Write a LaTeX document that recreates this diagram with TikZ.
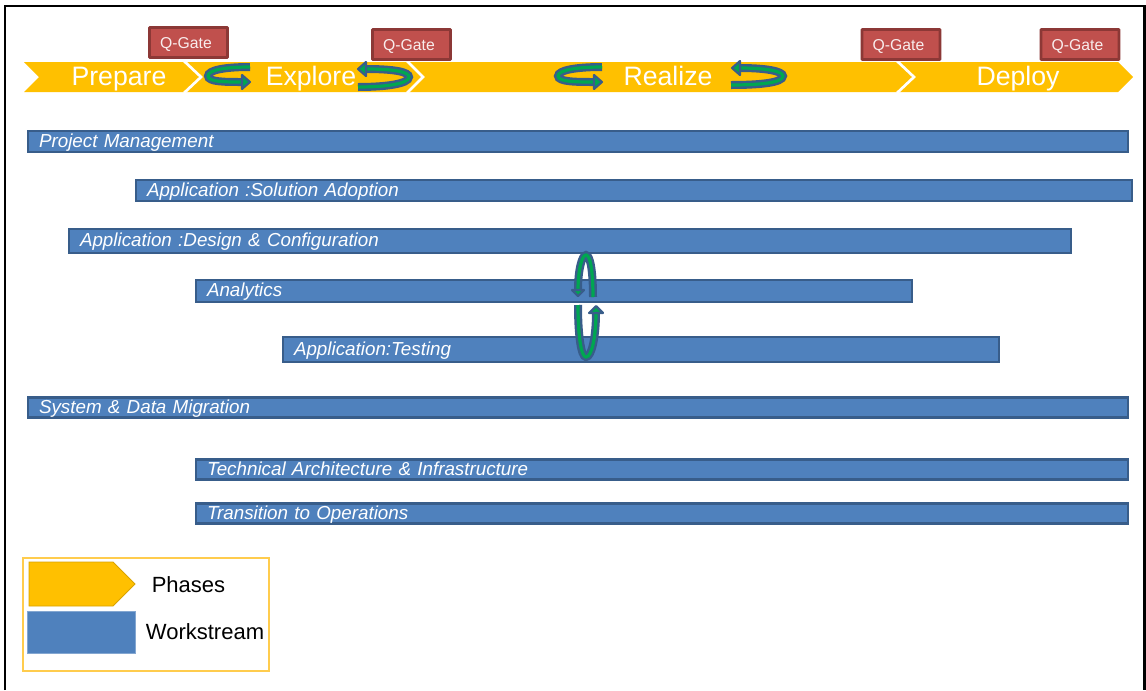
\documentclass[tikz,border=0pt]{standalone}
\usepackage{fontspec}
\setmainfont{Liberation Sans}
\definecolor{phase}{HTML}{FFC000}
\definecolor{bluefill}{HTML}{4F81BD}
\definecolor{blueline}{HTML}{385D8A}
\definecolor{gatefill}{HTML}{C0504D}
\definecolor{gateline}{HTML}{8C3836}
\definecolor{loopgreen}{HTML}{00A651}
\definecolor{legendline}{HTML}{FFCC4D}
\tikzset{
  x=0.75pt,y=-0.75pt,
  frameline/.style={draw=black,line width=2.2pt},
  phaseband/.style={fill=phase,draw=none},
  phasesep/.style={draw=white,line width=2pt},
  phasetext/.style={text=white,font=\fontsize{20}{24}\selectfont,inner sep=0pt,anchor=base},
  gatebox/.style={fill=gatefill,draw=gateline,line width=2.2pt,rounded corners=0.6pt,
    minimum width=58.5pt,minimum height=22.5pt,inner sep=0pt,outer sep=0pt,
    text height=8.5pt,text depth=0pt,
    text=white!90!gatefill,font=\fontsize{11.8}{14}\selectfont},
  wsbox/.style={fill=bluefill,draw=blueline,line width=2pt,inner sep=0pt,outer sep=0pt,
    anchor=center,text=white,align=left,
    font=\fontsize{14.1}{17}\selectfont\itshape},
  loopout/.style={draw=blueline,line width=6pt},
  loopin/.style={draw=loopgreen,line width=2.4pt},
  headin/.style={fill=loopgreen,draw=blueline,line width=1.6pt,line join=round},
  legendbox/.style={draw=legendline,line width=0.9pt,fill=white},
  legendtext/.style={text=black,font=\fontsize{16.5}{20}\selectfont,inner sep=0pt}
}
% name, x0, y0, x1, y1, text (pixel coordinates of the outer edge)
\newcommand{\wbar}[6]{%
  \pgfmathsetmacro{\wbw}{(#4-#2-2)*0.75}%
  \pgfmathsetmacro{\wbh}{(#5-#3-2)*0.75}%
  \pgfmathsetmacro{\wbt}{(#4-#2-24)*0.75}%
  \node[wsbox,minimum width=\wbw pt,minimum height=\wbh pt,text width=\wbt pt] (#1)
    at ({(#2+#4)/2},{(#3+#5)/2}) {\rule[-3.3pt]{0pt}{15.4pt}#6};%
}
% path, head: outlined arrow with a green core
\newcommand{\looparrow}[2]{%
  \draw[loopout] #1;
  \draw[loopin] #1;
  \path[headin] #2 -- cycle;
}
\begin{document}
\begin{tikzpicture}
\path[fill=white] (0,0) rectangle (1146,690);
\useasboundingbox (0,0) rectangle (1146,690);
\draw[frameline] (5,690) -- (5,6) -- (1144.5,6) -- (1144.5,690);

% phase band
\path[phaseband] (24,62) -- (1118,62) -- (1133,77) -- (1118,92) -- (24,92) -- (39,77) -- cycle;
\coordinate (s1a) at (184,61); \coordinate (s1b) at (201,77); \coordinate (s1c) at (184,93);
\coordinate (s2a) at (407,61); \coordinate (s2b) at (423,77); \coordinate (s2c) at (407,93);
\coordinate (s3a) at (897,61); \coordinate (s3b) at (914,77); \coordinate (s3c) at (897,93);
\draw[phasesep] (s1a) -- (s1b) -- (s1c);
\draw[phasesep] (s2a) -- (s2b) -- (s2c);
\draw[phasesep] (s3a) -- (s3b) -- (s3c);
\node[phasetext] (prepare) at (119,85) {Prepare};
\node[phasetext] (explore) at (311,85) {Explore};
\node[phasetext] (realize) at (668,85) {Realize};
\node[phasetext] (deploy) at (1018,85) {Deploy};

% quality gates
\node[gatebox] (g1) at (188.5,42.5) {Q-Gate\kern3.75pt\relax};
\node[gatebox] (g2) at (411.5,44.5) {Q-Gate\kern3.75pt\relax};
\node[gatebox] (g3) at (901,44.5) {Q-Gate\kern3.75pt\relax};
\node[gatebox] (g4) at (1080,44.5) {Q-Gate\kern3.75pt\relax};

% workstreams
\wbar{w1}{27}{130}{1129}{153}{Project Management}
\wbar{w2}{135}{179}{1133}{202}{Application :Solution Adoption}
\wbar{w3}{68}{228}{1072}{254}{Application :Design \& Configuration}
\wbar{w4}{195}{279}{913}{303}{Analytics}
\wbar{w5}{282}{336}{1000}{363}{Application:Testing}
\wbar{w6}{27}{397}{1129}{418}{System \& Data Migration}
\wbar{w7}{195}{459}{1129}{480}{Technical Architecture \& Infrastructure}
\wbar{w8}{195}{503}{1129}{524}{Transition to Operations}

% loop arrows on the phase band
\looparrow{(250,67) .. controls (225,67) and (208,70) .. (208,76) .. controls (208,82) and (225,82) .. (242,82)}
          {(242,75) -- (250,82) -- (242,89)}
\looparrow{(366,69) .. controls (395,69) and (409,72) .. (409,77) .. controls (409,84) and (385,87) .. (358,87)}
          {(366,62) -- (358,69) -- (366,76)}
\looparrow{(602,67) .. controls (577,67) and (558,70) .. (558,76) .. controls (558,82) and (577,82) .. (594,82)}
          {(594,75) -- (602,82) -- (594,89)}
\looparrow{(740,68) .. controls (765,68) and (783,71) .. (783,76) .. controls (783,83) and (758,85) .. (731,85)}
          {(740,61) -- (732,68) -- (740,75)}

% vertical loop arrows
\looparrow{(593,297) .. controls (593,270) and (590,255) .. (586,255) .. controls (582,255) and (578,270) .. (578,290)}
          {(572,290) -- (578,296) -- (584,290)}
\looparrow{(578,305) .. controls (578,335) and (581,357) .. (586,357) .. controls (592,357) and (596,335) .. (596,313)}
          {(589,313) -- (596,306) -- (603,313)}

% legend
\path[legendbox] (23,558) rectangle (269,671);
\path[fill=phase,draw=phase!85!black,line width=0.7pt] (29,562) -- (113,562) -- (135,584) -- (113,606) -- (29,606) -- cycle;
\path[fill=bluefill,draw=bluefill!70!white,line width=0.6pt] (27,611) rectangle (135,653);
\node[legendtext] (lp) at (188.5,585) {Phases};
\node[legendtext] (lw) at (205,632) {Workstream};
\end{tikzpicture}
\end{document}
